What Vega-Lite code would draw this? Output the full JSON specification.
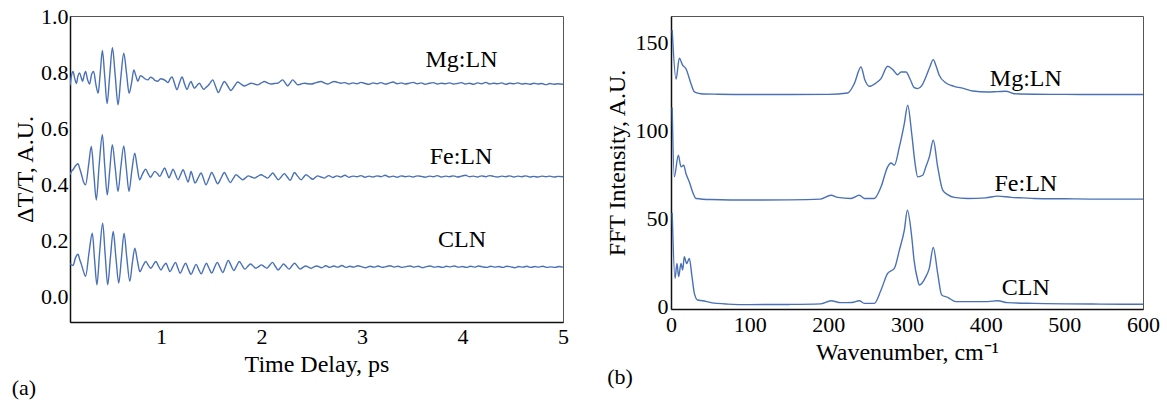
{
"$schema":"https://vega.github.io/schema/vega-lite/v6.json",
"padding":{"left":11,"top":5,"right":0,"bottom":0},
"spacing":108,
"bounds":"flush",
"config":{"font":"Liberation Serif","view":{"stroke":"#555","strokeWidth":1},
"axis":{"labelFont":"Liberation Serif","titleFont":"Liberation Serif","labelFontSize":22,"titleFontSize":24,"titleFontWeight":"normal","labelColor":"#000","titleColor":"#000","ticks":false,"tickSize":0,"grid":false,"domainColor":"#111","domainWidth":1.5}},
"datasets":{
"A":[
{"s":"Mg","t":0.095,"v":0.755},{"s":"Mg","t":0.11,"v":0.79},{"s":"Mg","t":0.125,"v":0.805},{"s":"Mg","t":0.142,"v":0.78},{"s":"Mg","t":0.158,"v":0.762},{"s":"Mg","t":0.175,"v":0.79},{"s":"Mg","t":0.19,"v":0.8},{"s":"Mg","t":0.205,"v":0.785},{"s":"Mg","t":0.22,"v":0.77},{"s":"Mg","t":0.235,"v":0.79},{"s":"Mg","t":0.25,"v":0.805},{"s":"Mg","t":0.27,"v":0.775},{"s":"Mg","t":0.29,"v":0.76},{"s":"Mg","t":0.31,"v":0.795},{"s":"Mg","t":0.33,"v":0.805},{"s":"Mg","t":0.352,"v":0.76},{"s":"Mg","t":0.375,"v":0.727},{"s":"Mg","t":0.396,"v":0.8},{"s":"Mg","t":0.417,"v":0.88},{"s":"Mg","t":0.44,"v":0.79},{"s":"Mg","t":0.464,"v":0.69},{"s":"Mg","t":0.49,"v":0.79},{"s":"Mg","t":0.517,"v":0.89},{"s":"Mg","t":0.545,"v":0.79},{"s":"Mg","t":0.573,"v":0.686},{"s":"Mg","t":0.6,"v":0.78},{"s":"Mg","t":0.63,"v":0.87},{"s":"Mg","t":0.657,"v":0.8},{"s":"Mg","t":0.683,"v":0.727},{"s":"Mg","t":0.708,"v":0.765},{"s":"Mg","t":0.73,"v":0.81},{"s":"Mg","t":0.75,"v":0.79},{"s":"Mg","t":0.77,"v":0.77},{"s":"Mg","t":0.795,"v":0.79},{"s":"Mg","t":0.82,"v":0.785},{"s":"Mg","t":0.845,"v":0.778},{"s":"Mg","t":0.87,"v":0.775},{"s":"Mg","t":0.895,"v":0.784},{"s":"Mg","t":0.92,"v":0.78},{"s":"Mg","t":0.945,"v":0.772},{"s":"Mg","t":0.97,"v":0.77},{"s":"Mg","t":0.995,"v":0.779},{"s":"Mg","t":1.02,"v":0.777},{"s":"Mg","t":1.045,"v":0.772},{"s":"Mg","t":1.07,"v":0.765},{"s":"Mg","t":1.09,"v":0.778},{"s":"Mg","t":1.11,"v":0.785},{"s":"Mg","t":1.135,"v":0.762},{"s":"Mg","t":1.16,"v":0.74},{"s":"Mg","t":1.185,"v":0.765},{"s":"Mg","t":1.21,"v":0.785},{"s":"Mg","t":1.235,"v":0.76},{"s":"Mg","t":1.26,"v":0.74},{"s":"Mg","t":1.28,"v":0.758},{"s":"Mg","t":1.299,"v":0.769},{"s":"Mg","t":1.315,"v":0.757},{"s":"Mg","t":1.332,"v":0.745},{"s":"Mg","t":1.357,"v":0.754},{"s":"Mg","t":1.382,"v":0.763},{"s":"Mg","t":1.403,"v":0.752},{"s":"Mg","t":1.425,"v":0.741},{"s":"Mg","t":1.445,"v":0.747},{"s":"Mg","t":1.465,"v":0.753},{"s":"Mg","t":1.49,"v":0.764},{"s":"Mg","t":1.515,"v":0.775},{"s":"Mg","t":1.543,"v":0.752},{"s":"Mg","t":1.571,"v":0.73},{"s":"Mg","t":1.6,"v":0.75},{"s":"Mg","t":1.631,"v":0.769},{"s":"Mg","t":1.664,"v":0.753},{"s":"Mg","t":1.697,"v":0.737},{"s":"Mg","t":1.73,"v":0.752},{"s":"Mg","t":1.763,"v":0.767},{"s":"Mg","t":1.797,"v":0.76},{"s":"Mg","t":1.83,"v":0.753},{"s":"Mg","t":1.863,"v":0.758},{"s":"Mg","t":1.896,"v":0.763},{"s":"Mg","t":1.93,"v":0.76},{"s":"Mg","t":1.962,"v":0.757},{"s":"Mg","t":1.995,"v":0.763},{"s":"Mg","t":2.029,"v":0.769},{"s":"Mg","t":2.062,"v":0.764},{"s":"Mg","t":2.095,"v":0.76},{"s":"Mg","t":2.128,"v":0.762},{"s":"Mg","t":2.161,"v":0.763},{"s":"Mg","t":2.186,"v":0.769},{"s":"Mg","t":2.211,"v":0.775},{"s":"Mg","t":2.236,"v":0.764},{"s":"Mg","t":2.261,"v":0.753},{"s":"Mg","t":2.286,"v":0.764},{"s":"Mg","t":2.311,"v":0.775},{"s":"Mg","t":2.336,"v":0.766},{"s":"Mg","t":2.36,"v":0.757},{"s":"Mg","t":2.393,"v":0.76},{"s":"Mg","t":2.427,"v":0.763},{"s":"Mg","t":2.46,"v":0.761},{"s":"Mg","t":2.493,"v":0.76},{"s":"Mg","t":2.543,"v":0.765},{"s":"Mg","t":2.593,"v":0.769},{"s":"Mg","t":2.626,"v":0.764},{"s":"Mg","t":2.659,"v":0.76},{"s":"Mg","t":2.692,"v":0.765},{"s":"Mg","t":2.725,"v":0.769},{"s":"Mg","t":2.757,"v":0.766},{"s":"Mg","t":2.79,"v":0.763},{"s":"Mg","t":2.83,"v":0.765},{"s":"Mg","t":2.87,"v":0.76},{"s":"Mg","t":2.91,"v":0.764},{"s":"Mg","t":2.95,"v":0.761},{"s":"Mg","t":2.99,"v":0.766},{"s":"Mg","t":3.03,"v":0.762},{"s":"Mg","t":3.07,"v":0.759},{"s":"Mg","t":3.11,"v":0.764},{"s":"Mg","t":3.15,"v":0.761},{"s":"Mg","t":3.19,"v":0.765},{"s":"Mg","t":3.23,"v":0.76},{"s":"Mg","t":3.27,"v":0.763},{"s":"Mg","t":3.31,"v":0.767},{"s":"Mg","t":3.35,"v":0.761},{"s":"Mg","t":3.39,"v":0.764},{"s":"Mg","t":3.43,"v":0.76},{"s":"Mg","t":3.47,"v":0.763},{"s":"Mg","t":3.51,"v":0.766},{"s":"Mg","t":3.55,"v":0.761},{"s":"Mg","t":3.59,"v":0.764},{"s":"Mg","t":3.63,"v":0.759},{"s":"Mg","t":3.67,"v":0.763},{"s":"Mg","t":3.71,"v":0.765},{"s":"Mg","t":3.75,"v":0.76},{"s":"Mg","t":3.79,"v":0.763},{"s":"Mg","t":3.83,"v":0.761},{"s":"Mg","t":3.87,"v":0.764},{"s":"Mg","t":3.91,"v":0.76},{"s":"Mg","t":3.95,"v":0.762},{"s":"Mg","t":3.99,"v":0.765},{"s":"Mg","t":4.03,"v":0.76},{"s":"Mg","t":4.07,"v":0.763},{"s":"Mg","t":4.11,"v":0.759},{"s":"Mg","t":4.15,"v":0.764},{"s":"Mg","t":4.19,"v":0.761},{"s":"Mg","t":4.23,"v":0.766},{"s":"Mg","t":4.27,"v":0.76},{"s":"Mg","t":4.31,"v":0.763},{"s":"Mg","t":4.35,"v":0.761},{"s":"Mg","t":4.39,"v":0.764},{"s":"Mg","t":4.43,"v":0.759},{"s":"Mg","t":4.47,"v":0.763},{"s":"Mg","t":4.51,"v":0.761},{"s":"Mg","t":4.55,"v":0.764},{"s":"Mg","t":4.59,"v":0.76},{"s":"Mg","t":4.63,"v":0.762},{"s":"Mg","t":4.67,"v":0.759},{"s":"Mg","t":4.71,"v":0.763},{"s":"Mg","t":4.75,"v":0.76},{"s":"Mg","t":4.79,"v":0.762},{"s":"Mg","t":4.83,"v":0.758},{"s":"Mg","t":4.87,"v":0.762},{"s":"Mg","t":4.91,"v":0.759},{"s":"Mg","t":4.95,"v":0.761},{"s":"Mg","t":5.0,"v":0.759},
{"s":"Fe","t":0.095,"v":0.436},{"s":"Fe","t":0.11,"v":0.448},{"s":"Fe","t":0.125,"v":0.454},{"s":"Fe","t":0.15,"v":0.468},{"s":"Fe","t":0.175,"v":0.475},{"s":"Fe","t":0.19,"v":0.46},{"s":"Fe","t":0.21,"v":0.436},{"s":"Fe","t":0.23,"v":0.41},{"s":"Fe","t":0.25,"v":0.4},{"s":"Fe","t":0.28,"v":0.47},{"s":"Fe","t":0.307,"v":0.537},{"s":"Fe","t":0.332,"v":0.44},{"s":"Fe","t":0.357,"v":0.346},{"s":"Fe","t":0.385,"v":0.47},{"s":"Fe","t":0.417,"v":0.579},{"s":"Fe","t":0.44,"v":0.47},{"s":"Fe","t":0.466,"v":0.364},{"s":"Fe","t":0.49,"v":0.45},{"s":"Fe","t":0.516,"v":0.543},{"s":"Fe","t":0.545,"v":0.46},{"s":"Fe","t":0.573,"v":0.376},{"s":"Fe","t":0.6,"v":0.46},{"s":"Fe","t":0.63,"v":0.539},{"s":"Fe","t":0.655,"v":0.46},{"s":"Fe","t":0.682,"v":0.376},{"s":"Fe","t":0.71,"v":0.45},{"s":"Fe","t":0.739,"v":0.513},{"s":"Fe","t":0.763,"v":0.465},{"s":"Fe","t":0.788,"v":0.418},{"s":"Fe","t":0.818,"v":0.44},{"s":"Fe","t":0.848,"v":0.456},{"s":"Fe","t":0.872,"v":0.44},{"s":"Fe","t":0.895,"v":0.427},{"s":"Fe","t":0.918,"v":0.438},{"s":"Fe","t":0.938,"v":0.448},{"s":"Fe","t":0.965,"v":0.44},{"s":"Fe","t":0.99,"v":0.43},{"s":"Fe","t":1.013,"v":0.446},{"s":"Fe","t":1.037,"v":0.46},{"s":"Fe","t":1.058,"v":0.443},{"s":"Fe","t":1.08,"v":0.425},{"s":"Fe","t":1.1,"v":0.44},{"s":"Fe","t":1.12,"v":0.456},{"s":"Fe","t":1.145,"v":0.437},{"s":"Fe","t":1.17,"v":0.418},{"s":"Fe","t":1.195,"v":0.436},{"s":"Fe","t":1.22,"v":0.454},{"s":"Fe","t":1.245,"v":0.432},{"s":"Fe","t":1.27,"v":0.41},{"s":"Fe","t":1.285,"v":0.428},{"s":"Fe","t":1.299,"v":0.448},{"s":"Fe","t":1.319,"v":0.427},{"s":"Fe","t":1.339,"v":0.406},{"s":"Fe","t":1.369,"v":0.424},{"s":"Fe","t":1.399,"v":0.442},{"s":"Fe","t":1.424,"v":0.421},{"s":"Fe","t":1.448,"v":0.4},{"s":"Fe","t":1.477,"v":0.422},{"s":"Fe","t":1.505,"v":0.444},{"s":"Fe","t":1.535,"v":0.424},{"s":"Fe","t":1.564,"v":0.404},{"s":"Fe","t":1.598,"v":0.424},{"s":"Fe","t":1.631,"v":0.444},{"s":"Fe","t":1.66,"v":0.426},{"s":"Fe","t":1.69,"v":0.408},{"s":"Fe","t":1.718,"v":0.422},{"s":"Fe","t":1.747,"v":0.436},{"s":"Fe","t":1.78,"v":0.427},{"s":"Fe","t":1.813,"v":0.418},{"s":"Fe","t":1.842,"v":0.425},{"s":"Fe","t":1.87,"v":0.432},{"s":"Fe","t":1.9,"v":0.428},{"s":"Fe","t":1.929,"v":0.424},{"s":"Fe","t":1.962,"v":0.43},{"s":"Fe","t":1.996,"v":0.436},{"s":"Fe","t":2.029,"v":0.43},{"s":"Fe","t":2.062,"v":0.424},{"s":"Fe","t":2.087,"v":0.433},{"s":"Fe","t":2.112,"v":0.442},{"s":"Fe","t":2.14,"v":0.43},{"s":"Fe","t":2.168,"v":0.418},{"s":"Fe","t":2.198,"v":0.429},{"s":"Fe","t":2.228,"v":0.44},{"s":"Fe","t":2.257,"v":0.428},{"s":"Fe","t":2.287,"v":0.416},{"s":"Fe","t":2.307,"v":0.43},{"s":"Fe","t":2.327,"v":0.444},{"s":"Fe","t":2.36,"v":0.431},{"s":"Fe","t":2.394,"v":0.418},{"s":"Fe","t":2.418,"v":0.427},{"s":"Fe","t":2.443,"v":0.436},{"s":"Fe","t":2.476,"v":0.428},{"s":"Fe","t":2.51,"v":0.42},{"s":"Fe","t":2.535,"v":0.426},{"s":"Fe","t":2.559,"v":0.432},{"s":"Fe","t":2.592,"v":0.428},{"s":"Fe","t":2.626,"v":0.424},{"s":"Fe","t":2.67,"v":0.433},{"s":"Fe","t":2.71,"v":0.426},{"s":"Fe","t":2.75,"v":0.432},{"s":"Fe","t":2.79,"v":0.428},{"s":"Fe","t":2.83,"v":0.434},{"s":"Fe","t":2.87,"v":0.427},{"s":"Fe","t":2.91,"v":0.431},{"s":"Fe","t":2.95,"v":0.429},{"s":"Fe","t":2.99,"v":0.433},{"s":"Fe","t":3.03,"v":0.427},{"s":"Fe","t":3.07,"v":0.431},{"s":"Fe","t":3.11,"v":0.428},{"s":"Fe","t":3.15,"v":0.432},{"s":"Fe","t":3.19,"v":0.429},{"s":"Fe","t":3.23,"v":0.434},{"s":"Fe","t":3.27,"v":0.428},{"s":"Fe","t":3.31,"v":0.431},{"s":"Fe","t":3.35,"v":0.427},{"s":"Fe","t":3.39,"v":0.432},{"s":"Fe","t":3.43,"v":0.429},{"s":"Fe","t":3.47,"v":0.431},{"s":"Fe","t":3.51,"v":0.428},{"s":"Fe","t":3.55,"v":0.432},{"s":"Fe","t":3.59,"v":0.43},{"s":"Fe","t":3.63,"v":0.427},{"s":"Fe","t":3.67,"v":0.431},{"s":"Fe","t":3.71,"v":0.429},{"s":"Fe","t":3.75,"v":0.433},{"s":"Fe","t":3.79,"v":0.428},{"s":"Fe","t":3.83,"v":0.431},{"s":"Fe","t":3.87,"v":0.429},{"s":"Fe","t":3.91,"v":0.432},{"s":"Fe","t":3.95,"v":0.428},{"s":"Fe","t":3.99,"v":0.431},{"s":"Fe","t":4.03,"v":0.434},{"s":"Fe","t":4.07,"v":0.429},{"s":"Fe","t":4.11,"v":0.431},{"s":"Fe","t":4.15,"v":0.428},{"s":"Fe","t":4.19,"v":0.432},{"s":"Fe","t":4.23,"v":0.429},{"s":"Fe","t":4.27,"v":0.433},{"s":"Fe","t":4.31,"v":0.43},{"s":"Fe","t":4.35,"v":0.428},{"s":"Fe","t":4.39,"v":0.431},{"s":"Fe","t":4.43,"v":0.429},{"s":"Fe","t":4.47,"v":0.432},{"s":"Fe","t":4.51,"v":0.428},{"s":"Fe","t":4.55,"v":0.431},{"s":"Fe","t":4.59,"v":0.429},{"s":"Fe","t":4.63,"v":0.432},{"s":"Fe","t":4.67,"v":0.428},{"s":"Fe","t":4.71,"v":0.43},{"s":"Fe","t":4.75,"v":0.428},{"s":"Fe","t":4.79,"v":0.431},{"s":"Fe","t":4.83,"v":0.429},{"s":"Fe","t":4.87,"v":0.431},{"s":"Fe","t":4.91,"v":0.428},{"s":"Fe","t":4.95,"v":0.43},{"s":"Fe","t":5.0,"v":0.429},
{"s":"C","t":0.095,"v":0.118},{"s":"C","t":0.11,"v":0.115},{"s":"C","t":0.125,"v":0.112},{"s":"C","t":0.15,"v":0.14},{"s":"C","t":0.175,"v":0.152},{"s":"C","t":0.19,"v":0.135},{"s":"C","t":0.21,"v":0.114},{"s":"C","t":0.23,"v":0.09},{"s":"C","t":0.25,"v":0.073},{"s":"C","t":0.285,"v":0.16},{"s":"C","t":0.317,"v":0.227},{"s":"C","t":0.34,"v":0.13},{"s":"C","t":0.363,"v":0.043},{"s":"C","t":0.39,"v":0.16},{"s":"C","t":0.42,"v":0.263},{"s":"C","t":0.445,"v":0.15},{"s":"C","t":0.47,"v":0.043},{"s":"C","t":0.497,"v":0.14},{"s":"C","t":0.525,"v":0.233},{"s":"C","t":0.552,"v":0.14},{"s":"C","t":0.58,"v":0.049},{"s":"C","t":0.607,"v":0.14},{"s":"C","t":0.633,"v":0.227},{"s":"C","t":0.66,"v":0.14},{"s":"C","t":0.69,"v":0.055},{"s":"C","t":0.715,"v":0.12},{"s":"C","t":0.74,"v":0.174},{"s":"C","t":0.765,"v":0.13},{"s":"C","t":0.79,"v":0.09},{"s":"C","t":0.82,"v":0.11},{"s":"C","t":0.85,"v":0.126},{"s":"C","t":0.875,"v":0.112},{"s":"C","t":0.9,"v":0.102},{"s":"C","t":0.925,"v":0.115},{"s":"C","t":0.95,"v":0.126},{"s":"C","t":0.975,"v":0.11},{"s":"C","t":1.0,"v":0.096},{"s":"C","t":1.025,"v":0.11},{"s":"C","t":1.05,"v":0.12},{"s":"C","t":1.07,"v":0.104},{"s":"C","t":1.09,"v":0.09},{"s":"C","t":1.118,"v":0.108},{"s":"C","t":1.145,"v":0.123},{"s":"C","t":1.168,"v":0.103},{"s":"C","t":1.19,"v":0.084},{"s":"C","t":1.218,"v":0.103},{"s":"C","t":1.245,"v":0.12},{"s":"C","t":1.272,"v":0.099},{"s":"C","t":1.3,"v":0.08},{"s":"C","t":1.325,"v":0.099},{"s":"C","t":1.35,"v":0.116},{"s":"C","t":1.375,"v":0.098},{"s":"C","t":1.4,"v":0.082},{"s":"C","t":1.426,"v":0.101},{"s":"C","t":1.452,"v":0.12},{"s":"C","t":1.478,"v":0.102},{"s":"C","t":1.505,"v":0.085},{"s":"C","t":1.532,"v":0.104},{"s":"C","t":1.56,"v":0.123},{"s":"C","t":1.587,"v":0.105},{"s":"C","t":1.615,"v":0.087},{"s":"C","t":1.642,"v":0.108},{"s":"C","t":1.67,"v":0.13},{"s":"C","t":1.697,"v":0.112},{"s":"C","t":1.725,"v":0.094},{"s":"C","t":1.752,"v":0.11},{"s":"C","t":1.78,"v":0.126},{"s":"C","t":1.807,"v":0.112},{"s":"C","t":1.835,"v":0.099},{"s":"C","t":1.862,"v":0.108},{"s":"C","t":1.89,"v":0.117},{"s":"C","t":1.917,"v":0.11},{"s":"C","t":1.945,"v":0.102},{"s":"C","t":1.972,"v":0.108},{"s":"C","t":2.0,"v":0.114},{"s":"C","t":2.027,"v":0.108},{"s":"C","t":2.055,"v":0.102},{"s":"C","t":2.082,"v":0.113},{"s":"C","t":2.11,"v":0.123},{"s":"C","t":2.137,"v":0.109},{"s":"C","t":2.165,"v":0.096},{"s":"C","t":2.192,"v":0.106},{"s":"C","t":2.22,"v":0.117},{"s":"C","t":2.247,"v":0.108},{"s":"C","t":2.275,"v":0.099},{"s":"C","t":2.302,"v":0.11},{"s":"C","t":2.33,"v":0.12},{"s":"C","t":2.357,"v":0.109},{"s":"C","t":2.385,"v":0.099},{"s":"C","t":2.412,"v":0.105},{"s":"C","t":2.44,"v":0.11},{"s":"C","t":2.467,"v":0.106},{"s":"C","t":2.495,"v":0.102},{"s":"C","t":2.522,"v":0.107},{"s":"C","t":2.55,"v":0.11},{"s":"C","t":2.6,"v":0.104},{"s":"C","t":2.64,"v":0.111},{"s":"C","t":2.68,"v":0.105},{"s":"C","t":2.72,"v":0.11},{"s":"C","t":2.76,"v":0.106},{"s":"C","t":2.8,"v":0.112},{"s":"C","t":2.84,"v":0.105},{"s":"C","t":2.88,"v":0.109},{"s":"C","t":2.92,"v":0.106},{"s":"C","t":2.96,"v":0.111},{"s":"C","t":3.0,"v":0.107},{"s":"C","t":3.04,"v":0.104},{"s":"C","t":3.08,"v":0.109},{"s":"C","t":3.12,"v":0.106},{"s":"C","t":3.16,"v":0.11},{"s":"C","t":3.2,"v":0.105},{"s":"C","t":3.24,"v":0.108},{"s":"C","t":3.28,"v":0.111},{"s":"C","t":3.32,"v":0.106},{"s":"C","t":3.36,"v":0.109},{"s":"C","t":3.4,"v":0.105},{"s":"C","t":3.44,"v":0.108},{"s":"C","t":3.48,"v":0.11},{"s":"C","t":3.52,"v":0.106},{"s":"C","t":3.56,"v":0.109},{"s":"C","t":3.6,"v":0.104},{"s":"C","t":3.64,"v":0.108},{"s":"C","t":3.68,"v":0.11},{"s":"C","t":3.72,"v":0.106},{"s":"C","t":3.76,"v":0.108},{"s":"C","t":3.8,"v":0.105},{"s":"C","t":3.84,"v":0.109},{"s":"C","t":3.88,"v":0.107},{"s":"C","t":3.92,"v":0.11},{"s":"C","t":3.96,"v":0.106},{"s":"C","t":4.0,"v":0.108},{"s":"C","t":4.04,"v":0.105},{"s":"C","t":4.08,"v":0.109},{"s":"C","t":4.12,"v":0.106},{"s":"C","t":4.16,"v":0.11},{"s":"C","t":4.2,"v":0.107},{"s":"C","t":4.24,"v":0.105},{"s":"C","t":4.28,"v":0.109},{"s":"C","t":4.32,"v":0.106},{"s":"C","t":4.36,"v":0.108},{"s":"C","t":4.4,"v":0.105},{"s":"C","t":4.44,"v":0.109},{"s":"C","t":4.48,"v":0.107},{"s":"C","t":4.52,"v":0.104},{"s":"C","t":4.56,"v":0.108},{"s":"C","t":4.6,"v":0.106},{"s":"C","t":4.64,"v":0.109},{"s":"C","t":4.68,"v":0.105},{"s":"C","t":4.72,"v":0.108},{"s":"C","t":4.76,"v":0.106},{"s":"C","t":4.8,"v":0.109},{"s":"C","t":4.84,"v":0.105},{"s":"C","t":4.88,"v":0.107},{"s":"C","t":4.92,"v":0.105},{"s":"C","t":4.96,"v":0.108},{"s":"C","t":5.0,"v":0.106}
],
"B":[
{"s":"Mg","w":1.5,"i":157},{"s":"Mg","w":6.4,"i":129},{"s":"Mg","w":10.6,"i":141},{"s":"Mg","w":14.8,"i":137},{"s":"Mg","w":19,"i":135},{"s":"Mg","w":25.4,"i":126.5},{"s":"Mg","w":29.7,"i":121.8},{"s":"Mg","w":38,"i":120.8},{"s":"Mg","w":60,"i":120.5},{"s":"Mg","w":100,"i":120.3},{"s":"Mg","w":150,"i":120.3},{"s":"Mg","w":200,"i":120.4},{"s":"Mg","w":224.6,"i":121.2},{"s":"Mg","w":233,"i":126.5},{"s":"Mg","w":241.5,"i":136},{"s":"Mg","w":246.6,"i":128.4},{"s":"Mg","w":252,"i":125},{"s":"Mg","w":260.6,"i":126.9},{"s":"Mg","w":267,"i":129.4},{"s":"Mg","w":275.4,"i":136.4},{"s":"Mg","w":282,"i":134.5},{"s":"Mg","w":288,"i":131.6},{"s":"Mg","w":292.4,"i":133.1},{"s":"Mg","w":298.7,"i":133.1},{"s":"Mg","w":304,"i":129},{"s":"Mg","w":309.3,"i":124.2},{"s":"Mg","w":313.6,"i":123.7},{"s":"Mg","w":319,"i":125.5},{"s":"Mg","w":324,"i":130.3},{"s":"Mg","w":329,"i":136},{"s":"Mg","w":333.4,"i":140.2},{"s":"Mg","w":337,"i":136.5},{"s":"Mg","w":341,"i":131.3},{"s":"Mg","w":349.6,"i":126.9},{"s":"Mg","w":360,"i":125},{"s":"Mg","w":372.8,"i":123.7},{"s":"Mg","w":383.5,"i":122.3},{"s":"Mg","w":402.5,"i":121.8},{"s":"Mg","w":415,"i":122},{"s":"Mg","w":425.8,"i":122.2},{"s":"Mg","w":436,"i":120.8},{"s":"Mg","w":461.8,"i":120.5},{"s":"Mg","w":500,"i":120.4},{"s":"Mg","w":550,"i":120.3},{"s":"Mg","w":600,"i":120.3},
{"s":"Fe","w":1.5,"i":113},{"s":"Fe","w":4.2,"i":73.5},{"s":"Fe","w":9.3,"i":85.8},{"s":"Fe","w":12.7,"i":79.2},{"s":"Fe","w":16.1,"i":80.1},{"s":"Fe","w":19,"i":75.4},{"s":"Fe","w":23.3,"i":70.6},{"s":"Fe","w":27.5,"i":64.9},{"s":"Fe","w":31.8,"i":61.2},{"s":"Fe","w":50.8,"i":60.6},{"s":"Fe","w":100,"i":60.3},{"s":"Fe","w":150,"i":60.4},{"s":"Fe","w":190,"i":60.8},{"s":"Fe","w":203.4,"i":63},{"s":"Fe","w":211.9,"i":61.8},{"s":"Fe","w":228.8,"i":61.2},{"s":"Fe","w":239.4,"i":63},{"s":"Fe","w":245.7,"i":61.2},{"s":"Fe","w":258.4,"i":61.2},{"s":"Fe","w":267,"i":67.8},{"s":"Fe","w":275.4,"i":79.2},{"s":"Fe","w":279.6,"i":81.4},{"s":"Fe","w":283.9,"i":80.1},{"s":"Fe","w":290.3,"i":90.5},{"s":"Fe","w":296.6,"i":103.8},{"s":"Fe","w":300.9,"i":114.2},{"s":"Fe","w":306,"i":98},{"s":"Fe","w":310,"i":82},{"s":"Fe","w":313.6,"i":73.5},{"s":"Fe","w":319.9,"i":74.4},{"s":"Fe","w":324,"i":79.2},{"s":"Fe","w":328.5,"i":85},{"s":"Fe","w":333.4,"i":94.3},{"s":"Fe","w":339,"i":79.2},{"s":"Fe","w":345.4,"i":65.9},{"s":"Fe","w":351.7,"i":63.4},{"s":"Fe","w":360,"i":61.8},{"s":"Fe","w":377.1,"i":61.2},{"s":"Fe","w":400,"i":61.5},{"s":"Fe","w":415.3,"i":62.5},{"s":"Fe","w":432.2,"i":61.8},{"s":"Fe","w":448,"i":61.5},{"s":"Fe","w":461.8,"i":61.2},{"s":"Fe","w":500,"i":61},{"s":"Fe","w":546.6,"i":60.8},{"s":"Fe","w":600,"i":60.8},
{"s":"C","w":1.5,"i":53},{"s":"C","w":5.1,"i":15.7},{"s":"C","w":7.6,"i":24.2},{"s":"C","w":9.7,"i":16.7},{"s":"C","w":12.7,"i":24.2},{"s":"C","w":14.8,"i":20.5},{"s":"C","w":16.9,"i":28},{"s":"C","w":19.9,"i":24.2},{"s":"C","w":23.3,"i":27.1},{"s":"C","w":26.7,"i":16.7},{"s":"C","w":29.7,"i":7.2},{"s":"C","w":33.9,"i":3.4},{"s":"C","w":40.3,"i":3},{"s":"C","w":50.8,"i":1.9},{"s":"C","w":72,"i":1.1},{"s":"C","w":100,"i":0.8},{"s":"C","w":150,"i":0.9},{"s":"C","w":190,"i":1.2},{"s":"C","w":203.4,"i":3},{"s":"C","w":216,"i":1.9},{"s":"C","w":230,"i":2},{"s":"C","w":239.4,"i":3},{"s":"C","w":245.7,"i":1.5},{"s":"C","w":258.4,"i":1.5},{"s":"C","w":267,"i":9.1},{"s":"C","w":275.4,"i":18.6},{"s":"C","w":283.9,"i":21.4},{"s":"C","w":290.3,"i":31.8},{"s":"C","w":296.6,"i":43.2},{"s":"C","w":300.5,"i":54.5},{"s":"C","w":306,"i":39.4},{"s":"C","w":309,"i":26},{"s":"C","w":313.6,"i":14.8},{"s":"C","w":315.6,"i":11.9},{"s":"C","w":324,"i":16.7},{"s":"C","w":328.3,"i":21.4},{"s":"C","w":333.4,"i":33.3},{"s":"C","w":339,"i":18.6},{"s":"C","w":344.1,"i":6.3},{"s":"C","w":351.7,"i":4.9},{"s":"C","w":362.3,"i":2.5},{"s":"C","w":402.5,"i":2.5},{"s":"C","w":415.3,"i":3},{"s":"C","w":428,"i":1.9},{"s":"C","w":461.8,"i":1.5},{"s":"C","w":546.6,"i":1.1},{"s":"C","w":600,"i":1}
],
"LA":[{"t":3.99,"v":0.846,"label":"Mg:LN","fs":24},{"t":3.985,"v":0.501,"label":"Fe:LN","fs":24},{"t":3.995,"v":0.204,"label":"CLN","fs":24},{"t":-0.363,"v":-0.325,"label":"(a)","fs":22}],
"LB":[{"w":451,"i":129.4,"label":"Mg:LN","fs":24},{"w":451,"i":69.7,"label":"Fe:LN","fs":24},{"w":451,"i":10,"label":"CLN","fs":24},{"w":-64.8,"i":-40.2,"label":"(b)","fs":22}]
},
"hconcat":[
{"width":493,"height":306,
"layer":[
{"data":{"name":"A"},"mark":{"type":"line","color":"#4a71b6","strokeWidth":1.4,"clip":true,"interpolate":"monotone"},
"encoding":{
"x":{"field":"t","type":"quantitative","scale":{"domain":[0.095,5],"nice":false,"zero":false},"axis":{"values":[1,2,3,4,5],"format":"d","title":"Time Delay, ps","labelFlush":false,"labelPadding":4,"titlePadding":5}},
"y":{"field":"v","type":"quantitative","scale":{"domain":[-0.09,1.003],"nice":false,"zero":false},"axis":{"values":[0,0.2,0.4,0.6,0.8,1],"format":".1f","title":"ΔT/T, A.U.","labelPadding":2,"titlePadding":3}},
"detail":{"field":"s"},
"order":{"field":"t","type":"quantitative"}}},
{"data":{"name":"LA"},"mark":{"type":"text","font":"Liberation Serif","color":"#000"},
"encoding":{"x":{"field":"t","type":"quantitative"},"y":{"field":"v","type":"quantitative"},"text":{"field":"label"},"size":{"field":"fs","type":"quantitative","scale":null}}}
]},
{"width":472,"height":293,
"layer":[
{"data":{"name":"B"},"mark":{"type":"line","color":"#4a71b6","strokeWidth":1.4,"clip":true,"interpolate":"monotone"},
"encoding":{
"x":{"field":"w","type":"quantitative","scale":{"domain":[0,600],"nice":false,"zero":false},"axis":{"values":[0,100,200,300,400,500,600],"format":"d","title":"Wavenumber, cm⁻¹","labelFlush":false,"labelPadding":5,"titlePadding":5}},
"y":{"field":"i","type":"quantitative","scale":{"domain":[-1.7,165],"nice":false,"zero":false},"axis":{"values":[0,50,100,150],"format":"d","title":"FFT Intensity, A.U.","labelPadding":3,"titlePadding":6}},
"detail":{"field":"s"},
"order":{"field":"w","type":"quantitative"}}},
{"data":{"name":"LB"},"mark":{"type":"text","font":"Liberation Serif","color":"#000"},
"encoding":{"x":{"field":"w","type":"quantitative"},"y":{"field":"i","type":"quantitative"},"text":{"field":"label"},"size":{"field":"fs","type":"quantitative","scale":null}}}
]}
]
}
